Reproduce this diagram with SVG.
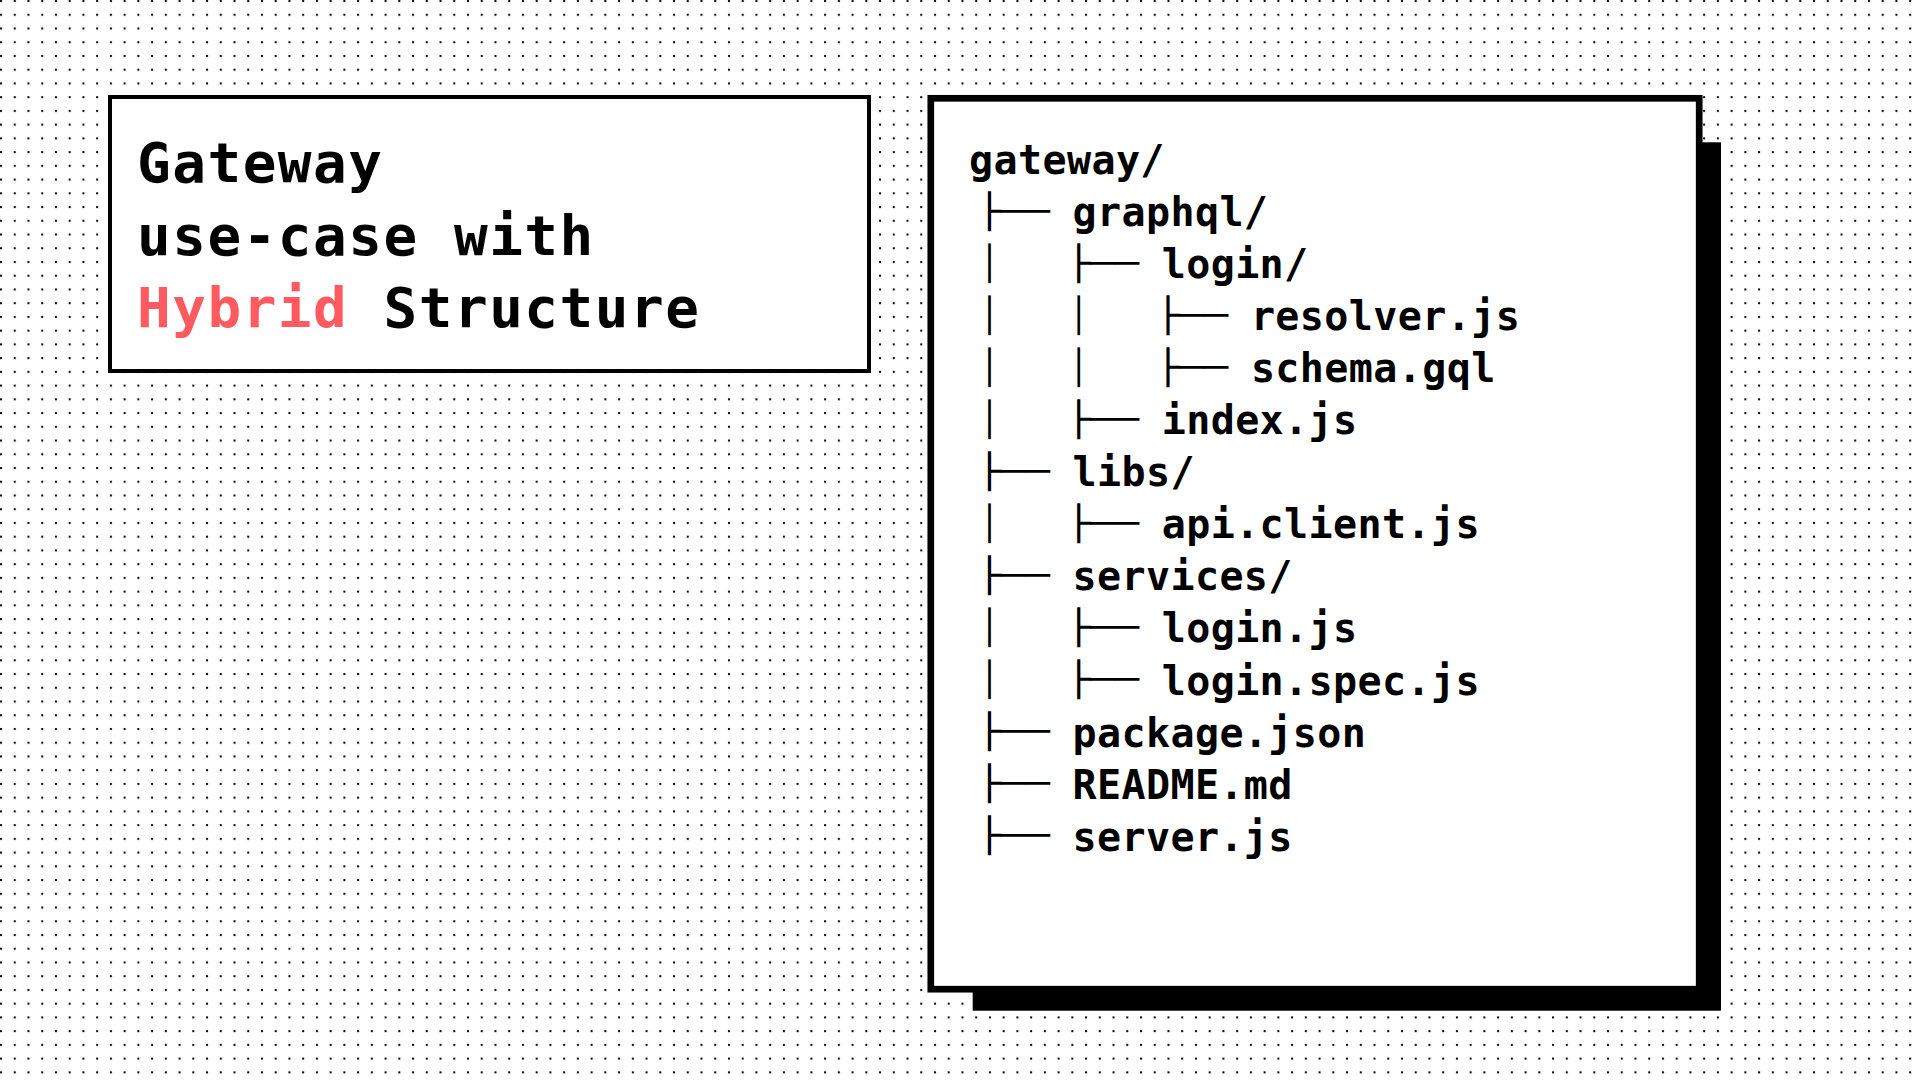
<svg xmlns="http://www.w3.org/2000/svg" width="1920" height="1080" viewBox="0 0 1920 1080">
  <style>
    .title { font-family: "DejaVu Sans Mono", "Liberation Mono", monospace; font-weight: bold; font-size: 56px; letter-spacing: 1.5px; fill: #000; }
    .red { fill: #ff5a5f; }
    .name { font-family: "DejaVu Sans Mono", "Liberation Mono", monospace; font-weight: bold; font-size: 40px; letter-spacing: 0.4px; fill: #000; }
    .tree { font-family: "DejaVu Sans Mono", "Liberation Mono", monospace; font-weight: normal; font-size: 33.5px; fill: #000; }
  </style>
  <defs>
    <pattern id="dots" x="0" y="0" width="13.735" height="13.735" patternUnits="userSpaceOnUse">
      <circle cx="1" cy="1" r="1.15" fill="#000"/>
    </pattern>
  </defs>
  <rect x="0" y="0" width="1920" height="1080" fill="#fff"/>
  <rect x="0" y="0" width="1920" height="1080" fill="url(#dots)"/>

  <g id="title-box">
    <rect x="110" y="97" width="759" height="274" fill="#fff" stroke="#000" stroke-width="4"/>
    <text class="title" x="137" y="182">Gateway</text>
    <text class="title" x="137" y="254.5">use-case with</text>
    <text class="title" x="137" y="327"><tspan class="red">Hybrid</tspan> Structure</text>
  </g>

  <g id="tree-box">
    <rect x="972.7" y="142.3" width="748.3" height="868.4" fill="#000"/>
    <rect x="930.8" y="98.3" width="768.4" height="890.9" fill="#fff" stroke="#000" stroke-width="6.7"/>
  </g>

  <g id="connectors">
    <!-- row 1: graphql -->
    <text class="tree" x="977.3" y="222.65" textLength="72.2" lengthAdjust="spacingAndGlyphs">├──</text>
    <!-- row 2: login/ -->
    <text class="tree" x="979.2" y="274.7">│</text>
    <text class="tree" x="1066.5" y="274.7" textLength="72.2" lengthAdjust="spacingAndGlyphs">├──</text>
    <!-- row 3: resolver.js -->
    <text class="tree" x="979.2" y="326.75">│</text>
    <text class="tree" x="1068.4" y="326.75">│</text>
    <text class="tree" x="1155.7" y="326.75" textLength="72.2" lengthAdjust="spacingAndGlyphs">├──</text>
    <!-- row 4: schema.gql -->
    <text class="tree" x="979.2" y="378.8">│</text>
    <text class="tree" x="1068.4" y="378.8">│</text>
    <text class="tree" x="1155.7" y="378.8" textLength="72.2" lengthAdjust="spacingAndGlyphs">├──</text>
    <!-- row 5: index.js -->
    <text class="tree" x="979.2" y="430.85">│</text>
    <text class="tree" x="1066.5" y="430.85" textLength="72.2" lengthAdjust="spacingAndGlyphs">├──</text>
    <!-- row 6: libs/ -->
    <text class="tree" x="977.3" y="482.9" textLength="72.2" lengthAdjust="spacingAndGlyphs">├──</text>
    <!-- row 7: api.client.js -->
    <text class="tree" x="979.2" y="534.95">│</text>
    <text class="tree" x="1066.5" y="534.95" textLength="72.2" lengthAdjust="spacingAndGlyphs">├──</text>
    <!-- row 8: services/ -->
    <text class="tree" x="977.3" y="587" textLength="72.2" lengthAdjust="spacingAndGlyphs">├──</text>
    <!-- row 9: login.js -->
    <text class="tree" x="979.2" y="639.05">│</text>
    <text class="tree" x="1066.5" y="639.05" textLength="72.2" lengthAdjust="spacingAndGlyphs">├──</text>
    <!-- row 10: login.spec.js -->
    <text class="tree" x="979.2" y="691.1">│</text>
    <text class="tree" x="1066.5" y="691.1" textLength="72.2" lengthAdjust="spacingAndGlyphs">├──</text>
    <!-- row 11: package.json -->
    <text class="tree" x="977.3" y="743.15" textLength="72.2" lengthAdjust="spacingAndGlyphs">├──</text>
    <!-- row 12: README.md -->
    <text class="tree" x="977.3" y="795.2" textLength="72.2" lengthAdjust="spacingAndGlyphs">├──</text>
    <!-- row 13: server.js -->
    <text class="tree" x="977.3" y="847.25" textLength="72.2" lengthAdjust="spacingAndGlyphs">├──</text>
  </g>

  <g id="n-gateway"><text class="name" x="969" y="174">gateway/</text></g>
  <g id="n-graphql"><text class="name" x="1072.5" y="226.05">graphql/</text></g>
  <g id="n-login-dir"><text class="name" x="1161.7" y="278.1">login/</text></g>
  <g id="n-resolver"><text class="name" x="1250.9" y="330.15">resolver.js</text></g>
  <g id="n-schema"><text class="name" x="1250.9" y="382.2">schema.gql</text></g>
  <g id="n-index"><text class="name" x="1161.7" y="434.25">index.js</text></g>
  <g id="n-libs"><text class="name" x="1072.5" y="486.3">libs/</text></g>
  <g id="n-apiclient"><text class="name" x="1161.7" y="538.35">api.client.js</text></g>
  <g id="n-services"><text class="name" x="1072.5" y="590.4">services/</text></g>
  <g id="n-loginjs"><text class="name" x="1161.7" y="642.45">login.js</text></g>
  <g id="n-loginspec"><text class="name" x="1161.7" y="694.5">login.spec.js</text></g>
  <g id="n-package"><text class="name" x="1072.5" y="746.55">package.json</text></g>
  <g id="n-readme"><text class="name" x="1072.5" y="798.6">README.md</text></g>
  <g id="n-server"><text class="name" x="1072.5" y="850.65">server.js</text></g>
</svg>
